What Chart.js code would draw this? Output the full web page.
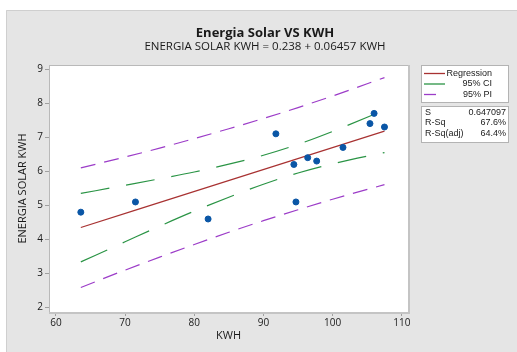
<!DOCTYPE html>
<html>
<head>
<meta charset="utf-8">
<script src="https://cdn.jsdelivr.net/npm/chart.js@4.4.1/dist/chart.umd.min.js"></script>
<style>
  html, body { margin: 0; padding: 0; background: #fff; }
  #wrap { width: 517px; height: 352px; position: relative; }
</style>
</head>
<body>
<div id="wrap"><canvas id="grafico"></canvas></div>
<script>
'use strict';
// DADOS
const kwh = [63.6, 71.5, 82.0, 91.8, 94.4, 94.7, 96.4, 97.7, 101.5, 105.4, 106.0, 107.5];
const energia = [4.8, 5.1, 4.6, 7.1, 6.2, 5.1, 6.4, 6.3, 6.7, 7.4, 7.7, 7.3];

// reta de regressao (extremos) e faixas lidas em alguns pontos
const regX = [63.6, 107.5];
const regY = [4.35, 7.18];
const faixaX = [63.6, 70, 75, 80, 85, 90, 95, 100, 107.5];
const icSup = [5.35, 5.59, 5.78, 5.98, 6.21, 6.47, 6.79, 7.17, 7.80];
const icInf = [3.34, 3.93, 4.39, 4.83, 5.24, 5.62, 5.95, 6.22, 6.55];
const ipSup = [6.10, 6.42, 6.68, 6.96, 7.25, 7.55, 7.87, 8.21, 8.75];
const ipInf = [2.59, 3.10, 3.48, 3.85, 4.21, 4.55, 4.87, 5.18, 5.61];

const xTicks = [60, 70, 80, 90, 100, 110];
const yTicks = [2, 3, 4, 5, 6, 7, 8, 9];

const legendaNomes = ['Regression', '95% CI', '95% PI'];
const estatNomes = ['S', 'R-Sq', 'R-Sq(adj)'];
const estatValores = ['0.647097', '67.6%', '64.4%'];

const FONTE = '"Open Sans", "Noto Sans", sans-serif';
const FONTE_LEG = '"Liberation Sans", Arial, sans-serif';
const corReg = '#a83232';
const corIC = '#2a9445';
const corIP = '#9c3cc8';

const pares = (xs, ys) => xs.map((x, i) => ({x: x, y: ys[i]}));

// fundo cinza, moldura do grafico, titulos e legenda
const fundo = {
    id: 'fundo',
    beforeDraw(chart) {
        const c = chart.ctx;
        const a = chart.chartArea;
        c.save();
        c.fillStyle = '#ffffff';
        c.fillRect(0, 0, chart.width, chart.height);
        c.fillStyle = '#e5e5e5';
        c.fillRect(6, 10, chart.width - 6, chart.height - 10);
        c.strokeStyle = '#cfcfcf';
        c.lineWidth = 1;
        c.beginPath();
        c.moveTo(6.5, chart.height);
        c.lineTo(6.5, 10.5);
        c.lineTo(chart.width, 10.5);
        c.stroke();
        c.fillStyle = '#ffffff';
        c.fillRect(a.left, a.top, a.right - a.left, a.bottom - a.top);
        c.restore();
    },
    afterDraw(chart) {
        const c = chart.ctx;
        const a = chart.chartArea;
        c.save();
        // moldura da area
        c.strokeStyle = '#b9b9b9';
        c.lineWidth = 1;
        c.strokeRect(a.left + 0.5, a.top + 0.5, a.right - a.left, a.bottom - a.top);
        c.strokeStyle = '#c4c4c4';
        c.lineWidth = 2;
        c.beginPath();
        c.moveTo(a.right + 1, a.top);
        c.lineTo(a.right + 1, a.bottom + 1);
        c.lineTo(a.left, a.bottom + 1);
        c.stroke();

        // titulos
        c.fillStyle = '#1a1a1a';
        c.textAlign = 'center';
        c.textBaseline = 'middle';
        c.font = 'bold 13px ' + FONTE;
        c.fillText('Energia Solar VS KWH', 265, 33);
        c.font = '11.5px ' + FONTE;
        c.fillText('ENERGIA SOLAR KWH = 0.238 + 0.06457 KWH', 265, 47);

        // titulo do eixo y
        c.save();
        c.translate(23, (a.top + a.bottom) / 2);
        c.rotate(-Math.PI / 2);
        c.font = '11px ' + FONTE;
        c.fillStyle = '#1a1a1a';
        c.fillText('ENERGIA SOLAR KWH', 0, 0);
        c.restore();

        // caixa da legenda
        c.fillStyle = '#ffffff';
        c.strokeStyle = '#b3b3b3';
        c.lineWidth = 1;
        c.fillRect(421.5, 65.5, 87, 37);
        c.strokeRect(421.5, 65.5, 87, 37);
        c.fillRect(421.5, 106.5, 87, 36);
        c.strokeRect(421.5, 106.5, 87, 36);

        const ds = chart.data.datasets;
        const amostras = [ds[1], ds[2], ds[4]];
        const compr = [21, 21, 12];
        c.font = '9px ' + FONTE_LEG;
        c.textAlign = 'right';
        c.fillStyle = '#1a1a1a';
        legendaNomes.forEach((nome, i) => {
            const y = 73.5 + i * 10.5;
            c.strokeStyle = amostras[i].borderColor;
            c.lineWidth = 1.3;
            c.beginPath();
            c.moveTo(424, y);
            c.lineTo(424 + compr[i], y);
            c.stroke();
            c.fillText(nome, 492, y);
        });
        estatNomes.forEach((nome, i) => {
            const y = 112.5 + i * 10.3;
            c.textAlign = 'left';
            c.fillText(nome, 425, y);
            c.textAlign = 'right';
            c.fillText(estatValores[i], 506, y);
        });
        c.restore();
    }
};

const linha = (dados, cor, traco) => ({
    type: 'line',
    data: dados,
    borderColor: cor,
    borderWidth: 1.2,
    borderDash: traco,
    pointRadius: 0,
    fill: false,
    cubicInterpolationMode: 'monotone'
});

const ctx = document.getElementById('grafico').getContext('2d');
const meuGrafico = new Chart(ctx, {
    type: 'scatter',
    plugins: [fundo],
    data: {
        datasets: [
            {
                data: pares(kwh, energia),
                backgroundColor: '#0a56a6',
                borderColor: '#0a56a6',
                pointRadius: 3,
                pointHoverRadius: 3,
                order: 0
            },
            Object.assign(linha(pares(regX, regY), corReg, []), {order: 1}),
            Object.assign(linha(pares(faixaX, icSup), corIC, [29, 17]), {order: 2}),
            Object.assign(linha(pares(faixaX, icInf), corIC, [29, 17]), {order: 2}),
            Object.assign(linha(pares(faixaX, ipSup), corIP, [15, 9]), {order: 3}),
            Object.assign(linha(pares(faixaX, ipInf), corIP, [15, 9]), {order: 3})
        ]
    },
    options: {
        responsive: true,
        maintainAspectRatio: false,
        animation: false,
        events: [],
        layout: {
            padding: {left: 0, right: 109, top: 65, bottom: 0}
        },
        scales: {
            x: {
                type: 'linear',
                min: 59,
                max: 110.9,
                afterBuildTicks: (s) => { s.ticks = xTicks.map(v => ({value: v})); },
                afterFit: (s) => { s.height = 40; },
                grid: {display: true, drawOnChartArea: false, tickLength: 4, color: '#a0a0a0'},
                border: {display: false},
                ticks: {color: '#1a1a1a', font: {family: FONTE, size: 10}, padding: 1, maxRotation: 0},
                title: {display: true, text: 'KWH', color: '#1a1a1a', font: {family: FONTE, size: 11}, padding: {top: 2, bottom: 10}}
            },
            y: {
                type: 'linear',
                min: 1.87,
                max: 9.12,
                afterBuildTicks: (s) => { s.ticks = yTicks.map(v => ({value: v})); },
                afterFit: (s) => { s.width = 49; },
                grid: {display: true, drawOnChartArea: false, tickLength: 4, color: '#a0a0a0'},
                border: {display: false},
                ticks: {color: '#1a1a1a', font: {family: FONTE, size: 10}, padding: 2}
            }
        },
        plugins: {
            legend: {display: false},
            tooltip: {enabled: false}
        }
    }
});
</script>
</body>
</html>
